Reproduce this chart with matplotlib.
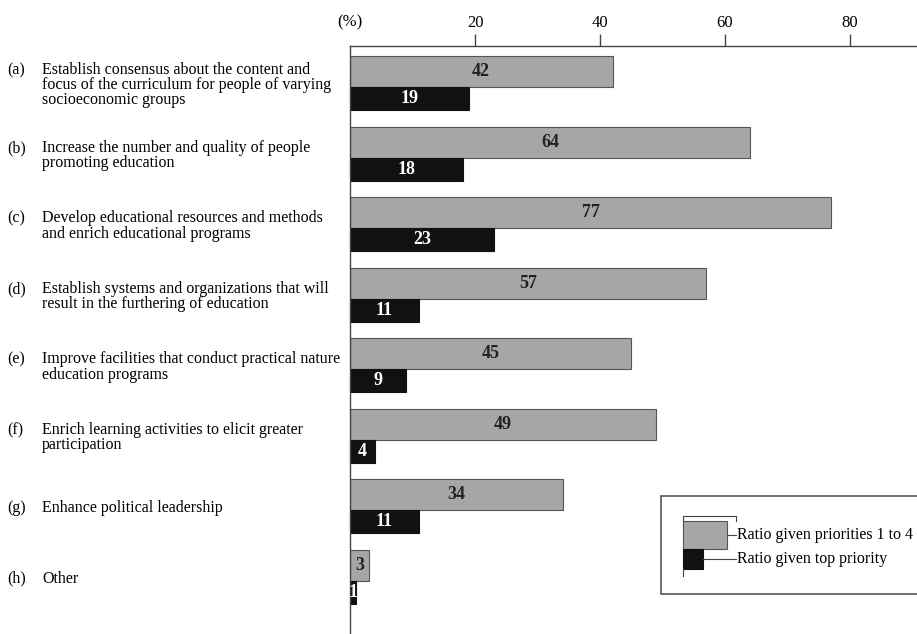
import matplotlib
matplotlib.use("Agg")
import matplotlib.pyplot as plt
import matplotlib.patches as mpatches
from matplotlib.lines import Line2D
from matplotlib.transforms import blended_transform_factory

# Dados
letters = ["(a)", "(b)", "(c)", "(d)", "(e)", "(f)", "(g)", "(h)"]
items = [
    "Establish consensus about the content and\nfocus of the curriculum for people of varying\nsocioeconomic groups",
    "Increase the number and quality of people\npromoting education",
    "Develop educational resources and methods\nand enrich educational programs",
    "Establish systems and organizations that will\nresult in the furthering of education",
    "Improve facilities that conduct practical nature\neducation programs",
    "Enrich learning activities to elicit greater\nparticipation",
    "Enhance political leadership",
    "Other",
]
priorities_1_to_4 = [42, 64, 77, 57, 45, 49, 34, 3]
top_priority = [19, 18, 23, 11, 9, 4, 11, 1]
xticks = [20, 40, 60, 80]
legend_labels = ["Ratio given priorities 1 to 4", "Ratio given top priority"]

W, H = 917, 634
plt.rcParams['font.family'] = ['Liberation Serif', 'DejaVu Serif']
fig = plt.figure(figsize=(W / 100, H / 100), dpi=100)

def fx(px):
    return px / W

def fy(py):
    return 1 - py / H

ax = fig.add_axes([fx(350), 0, fx(917) - fx(350), fy(46)])
ax.set_xlim(0, 567 / 6.25)
ax.set_ylim(7.787, -0.553)

gray = "#a6a6a6"
ys = list(range(len(items)))
g_top, g_h = -0.41, 0.44
b_h = 0.33
ax.barh([y + g_top + g_h / 2 for y in ys], priorities_1_to_4, height=g_h,
        color=gray, edgecolor="#555555", linewidth=0.8)
ax.barh([y + g_top + g_h + b_h / 2 for y in ys], top_priority, height=b_h,
        color="#111111", edgecolor="#111111", linewidth=0.8)

for y, v1, v2 in zip(ys, priorities_1_to_4, top_priority):
    ax.text(v1 / 2, y + g_top + g_h / 2, str(v1), ha="center", va="center",
            fontsize=13, fontweight="bold", color="#222222")
    ax.text(v2 / 2, y + g_top + g_h + b_h / 2, str(v2), ha="center", va="center",
            fontsize=13, fontweight="bold", color="white")

# Eixos
for s in ["right", "bottom"]:
    ax.spines[s].set_visible(False)
for s in ["top", "left"]:
    ax.spines[s].set_color("#444444")
    ax.spines[s].set_linewidth(1.0)
ax.xaxis.tick_top()
ax.set_xticks(xticks)
ax.set_xticklabels([str(t) for t in xticks], fontsize=12)
ax.tick_params(axis="x", direction="out", length=9, width=1.0, color="#444444", pad=2)
ax.set_yticks([])
ax.text(0, 1.0 + 16 / (H - 46), "(%)",
        transform=blended_transform_factory(ax.transData, ax.transAxes),
        ha="center", va="bottom", fontsize=12)

# Rótulos das categorias
tr = blended_transform_factory(fig.transFigure, ax.transData)
line_step = 15 / 70.5
for y, let, txt in zip(ys, letters, items):
    nlines = txt.count("\n") + 1
    ax.text(fx(7), y - (nlines - 1) / 2 * line_step, let, transform=tr,
            ha="left", va="center", fontsize=11.5)
    ax.text(fx(42), y, txt, transform=tr, ha="left", va="center", fontsize=11.5,
            linespacing=0.95)

# Legenda desenhada à mão
box = mpatches.Rectangle((fx(661), fy(594)), fx(940) - fx(661), fy(496) - fy(594),
                         transform=fig.transFigure, facecolor="white",
                         edgecolor="#555555", linewidth=1.2, clip_on=False)
fig.add_artist(box)
fig.add_artist(mpatches.Rectangle((fx(683), fy(549)), fx(44), fy(521) - fy(549),
                                  transform=fig.transFigure, facecolor=gray,
                                  edgecolor="#555555", linewidth=0.8))
fig.add_artist(mpatches.Rectangle((fx(683), fy(569)), fx(20), fy(549) - fy(569),
                                  transform=fig.transFigure, facecolor="#111111",
                                  edgecolor="#111111", linewidth=0.8))
lines = [
    ([683, 683, 736, 736], [521, 516, 516, 521]),
    ([683, 683], [569, 576]),
    ([727, 736], [535, 535]),
    ([703, 736], [559, 559]),
]
for xs_, ys_ in lines:
    fig.add_artist(Line2D([fx(v) for v in xs_], [fy(v) for v in ys_],
                          transform=fig.transFigure, color="#444444", linewidth=0.8))
fig.text(fx(737), fy(535), legend_labels[0], ha="left", va="center", fontsize=11.5)
fig.text(fx(737), fy(559), legend_labels[1], ha="left", va="center", fontsize=11.5)

fig.savefig("out.png", dpi=100)
plt.close(fig)
